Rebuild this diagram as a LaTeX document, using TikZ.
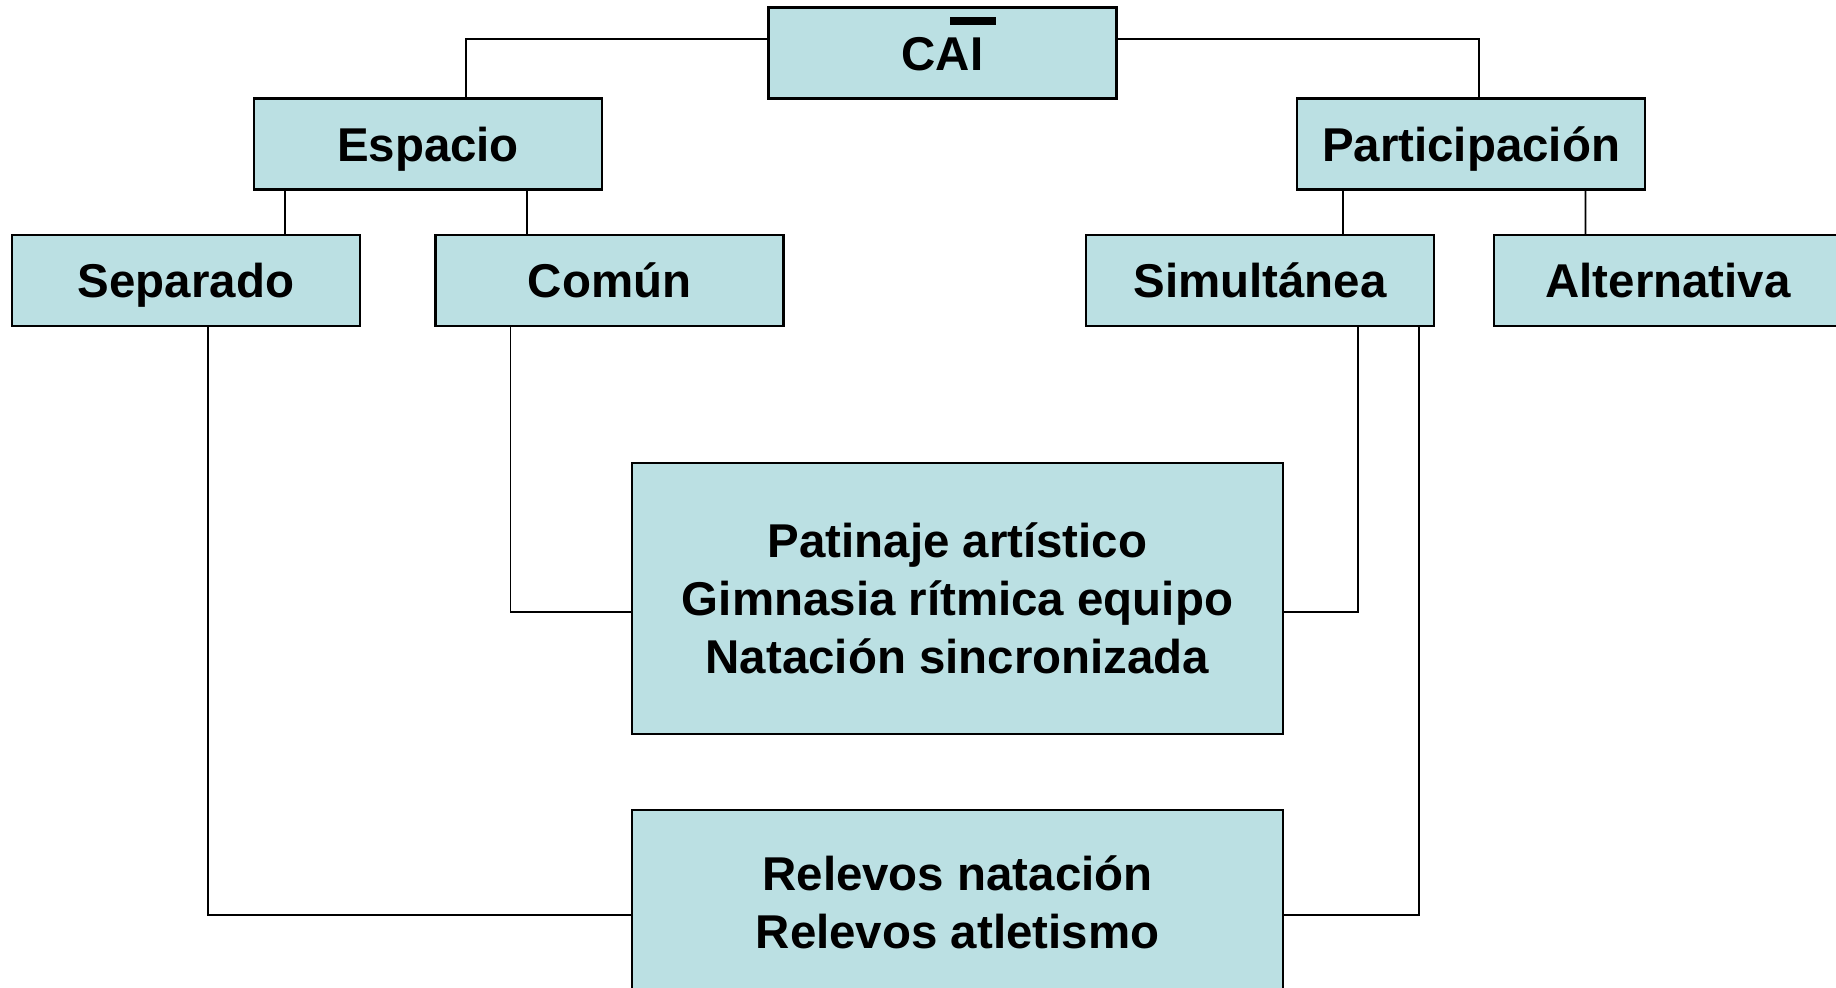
\documentclass[tikz,border=0pt]{standalone}
\usepackage{fontspec}
\setmainfont{Liberation Sans}
\usepackage{xcolor}
\usetikzlibrary{calc}
\definecolor{celeste}{RGB}{187,224,227}
\tikzset{
	marco/.style={
			draw, fill=celeste, line width=0.6pt, inner sep=0pt,
			font=\fontsize{13.5}{16.5}\selectfont\bfseries
		},
	caja/.style={
			marco, minimum width=3.48cm, minimum height=0.91cm,
			text height=0.42cm, text depth=0.07cm
		},
	grupo/.style={
			marco, minimum width=6.51cm, align=center
		}
}

\begin{document}
\begin{tikzpicture}
        \clip (0, 0) rectangle (18.36, -9.88);
        \fill[white] (0, 0) rectangle (18.36, -9.88);
        \node[caja] (cai) at (9.425, -0.53) {CAI};
        \node[caja] (espacio) at (4.28, -1.44) {Espacio};
        \node[caja] (participacion) at (14.71, -1.44) {Participación};
        \node[caja] (separado) at (1.86, -2.805) {Separado};
        \node[caja] (comun) at (6.095, -2.805) {Común};
        \node[caja] (simultanea) at (12.60, -2.805) {Simultánea};
        \node[caja] (alternativa) at (16.68, -2.805) {Alternativa};
        \node[grupo, minimum height=2.71cm] (grupo_sinc) at (9.575, -5.985)
            {Patinaje artístico\\Gimnasia rítmica equipo\\Natación sincronizada};
        \node[grupo, minimum height=1.84cm] (grupo_relevos) at (9.575, -9.02)
            {Relevos natación\\Relevos atletismo};
        \draw[line width=0.08cm] ([shift={(0.075, -0.15)}]cai.north) -- ([shift={(0.535, -0.15)}]cai.north);
        \draw[line width=0.5pt] ([yshift=0.14cm]cai.west) -| ([xshift=0.38cm]espacio.north);
        \draw[line width=0.5pt] ([yshift=0.14cm]cai.east) -| ([xshift=0.08cm]participacion.north);
        \draw[line width=0.5pt] ([xshift=-1.43cm]espacio.south) -- ([xshift=0.99cm]separado.north);
        \draw[line width=0.5pt] ([xshift=0.99cm]espacio.south) -- ([xshift=-0.825cm]comun.north);
        \draw[line width=0.5pt] ([xshift=-1.28cm]participacion.south) -- ([xshift=0.83cm]simultanea.north);
        \draw[line width=0.5pt] ([xshift=1.145cm]participacion.south) -- ([xshift=-0.825cm]alternativa.north);
        \draw[line width=0.5pt] ([xshift=0.22cm]separado.south) |- ([yshift=-0.13cm]grupo_relevos.west);
        \draw[line width=0.5pt] ([xshift=-0.99cm]comun.south) |- ([yshift=-0.135cm]grupo_sinc.west);
        \draw[line width=0.5pt] ([xshift=0.98cm]simultanea.south) |- ([yshift=-0.135cm]grupo_sinc.east);
        \draw[line width=0.5pt] ([xshift=1.59cm]simultanea.south) |- ([yshift=-0.13cm]grupo_relevos.east);
    \end{tikzpicture}
\end{document}
